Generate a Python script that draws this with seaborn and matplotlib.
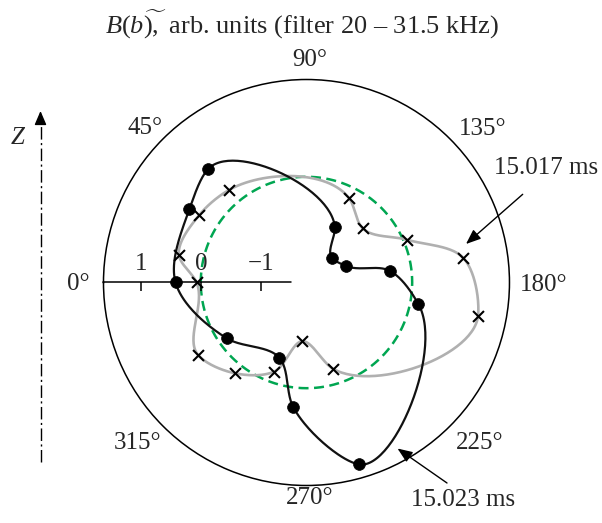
import numpy as np
import pandas as pd
import matplotlib
matplotlib.use("Agg")
import matplotlib.pyplot as plt
import seaborn as sns
from matplotlib.lines import Line2D

# ---- data -------------------------------------------------------------
# probe angles (deg) and field amplitude B(b), arb. units
angles_15017 = [0, 12, 32, 50, 117, 136, 157, 171, 191, 253, 274, 290, 308, 326]
signal_15017 = [0.07, 0.41, 0.35, 0.25, -0.19, -0.46, 0.06, 0.88, 1.15,
                -0.26, -0.78, -0.18, 0.16, 0.41]

angles_15023 = [0, 32, 49, 117, 136, 157, 172, 191, 254, 276, 290, 325]
signal_15023 = [0.42, 0.54, 0.74, -0.72, -1.17, -1.05, -0.36, 0.14, 1.39,
                0.33, -0.43, -0.14]

reference_level = 0.0
radial_ticks = [1, 0, -1]
radial_tick_labels = ["1", "0", "\u22121"]
angle_ticks = [0, 45, 90, 135, 180, 225, 270, 315]
angle_labels = ["0°", "45°", "90°", "135°", "180°", "225°", "270°", "315°"]
r_min, r_max = -1.76, 1.62

# ---- style ------------------------------------------------------------
sns.set_theme(style="ticks")
plt.rcParams["font.family"] = ["Liberation Serif", "DejaVu Serif"]
plt.rcParams["mathtext.fontset"] = "custom"
plt.rcParams["mathtext.rm"] = "Liberation Serif"
plt.rcParams["mathtext.it"] = "Liberation Serif:italic"
FS = 18


def closed_spline(theta_deg, values, origin, alpha=1.0, per_segment=60):
    """Closed Catmull-Rom curve through the measured points, built in the
    plane of the polar plot and returned as (theta_rad, r)."""
    th = np.radians(np.asarray(theta_deg, float))
    rho = np.asarray(values, float) - origin
    P = np.column_stack([rho * np.cos(th), rho * np.sin(th)])
    n = len(P)
    t = np.linspace(0, 1, per_segment, endpoint=False)[:, None]
    h00 = 2 * t**3 - 3 * t**2 + 1
    h10 = t**3 - 2 * t**2 + t
    h01 = -2 * t**3 + 3 * t**2
    h11 = t**3 - t**2
    pieces = []
    for i in range(n):
        p0, p1, p2, p3 = P[(i - 1) % n], P[i], P[(i + 1) % n], P[(i + 2) % n]
        d01 = np.linalg.norm(p1 - p0) ** alpha
        d12 = np.linalg.norm(p2 - p1) ** alpha
        d23 = np.linalg.norm(p3 - p2) ** alpha
        m1 = ((p1 - p0) / d01 - (p2 - p0) / (d01 + d12) + (p2 - p1) / d12) * d12
        m2 = ((p2 - p1) / d12 - (p3 - p1) / (d12 + d23) + (p3 - p2) / d23) * d12
        pieces.append(h00 * p1 + h10 * m1 + h01 * p2 + h11 * m2)
    pieces.append(P[:1])
    xy = np.vstack(pieces)
    theta = np.unwrap(np.arctan2(xy[:, 1], xy[:, 0]))
    r = np.hypot(xy[:, 0], xy[:, 1]) + origin
    return theta, r


fig = plt.figure(figsize=(6.02, 5.23), dpi=100)
ax = fig.add_axes([0.1719, 0.0717, 0.6744, 0.7763], projection="polar")
ax.set_theta_zero_location("W")
ax.set_theta_direction(-1)

# reference circle
circ = pd.DataFrame({"theta": np.linspace(0, 2 * np.pi, 721),
                     "r": np.full(721, reference_level)})
sns.lineplot(data=circ, x="theta", y="r", sort=False, estimator=None,
             color="#00a651", lw=1.8, ax=ax)
ax.lines[-1].set_dashes((4, 2.2))

# 15.017 ms
t1, r1 = closed_spline(angles_15017, signal_15017, r_min)
sns.lineplot(data=pd.DataFrame({"theta": t1, "r": r1}),
             x="theta", y="r", sort=False, estimator=None,
             color="#b0b0b0", lw=1.9, ax=ax)

# 15.023 ms
t2, r2 = closed_spline(angles_15023, signal_15023, r_min)
sns.lineplot(data=pd.DataFrame({"theta": t2, "r": r2}),
             x="theta", y="r", sort=False, estimator=None,
             color="#111111", lw=1.6, ax=ax)

sns.scatterplot(x=np.radians(angles_15017), y=signal_15017, marker="x",
                color="black", s=62, linewidth=1.5, ax=ax, zorder=5)
sns.scatterplot(x=np.radians(angles_15023), y=signal_15023, marker="o",
                color="black", edgecolor="black", s=72, linewidth=0.5,
                ax=ax, zorder=6)

ax.set_xlabel("")
ax.set_ylabel("")
ax.set_ylim(r_min, r_max)
ax.grid(False)
ax.set_yticks([])
ax.set_xticks(np.radians(angle_ticks))
ax.set_xticklabels([])
ax.tick_params(axis="x", direction="in", length=6.5, width=1.0, color="black")
ax.spines["polar"].set_color("black")
ax.spines["polar"].set_linewidth(1.1)

# radial scale along the 0° direction
ax.plot([0, 0], [-1.5, r_max], color="black", lw=1.1, clip_on=False)
ax.plot(np.zeros(len(radial_ticks)), radial_ticks, ls="none", marker=3,
        ms=6.5, mew=1.1, color="black")
for rv, lab in zip(radial_ticks, radial_tick_labels):
    ax.annotate(lab, xy=(0, rv), xytext=(0, 13.5), textcoords="offset points",
                ha="center", va="center", fontsize=FS)

# angle labels outside the rim (pixel offsets, screen y downward)
label_offsets = {0: (-25, 1.5), 45: (-18, -11), 90: (3.5, -20),
                 135: (33, -10), 180: (34.5, 2.5), 225: (30, 17),
                 270: (3.5, 12.5), 315: (-25, 17)}
for a, lab in zip(angle_ticks, angle_labels):
    ox, oy = label_offsets[a]
    ax.annotate(lab, xy=(np.radians(a), r_max), xytext=(ox * 0.72, -oy * 0.72),
                textcoords="offset points", ha="center", va="center",
                fontsize=FS, annotation_clip=False)

# title (wide tilde accent over the closing bracket and comma)
W, H = 602, 523
fig.text(302 / W, 1 - 24 / H,
         r"$B(b\widetilde{),}$ arb. units (filter 20 – 31.5 kHz)",
         ha="center", va="center", fontsize=19)

# Z axis
fig.add_artist(Line2D([40.5 / W, 40.5 / W], [1 - 462 / H, 1 - 122 / H],
                      transform=fig.transFigure, color="black", lw=1.0,
                      dashes=(9, 2.5, 1.5, 2.5)))
ax.annotate("", xy=(40.5, H - 111), xytext=(40.5, H - 124),
            xycoords="figure pixels", textcoords="figure pixels",
            arrowprops=dict(arrowstyle="-|>,head_length=0.7,head_width=0.3",
                            mutation_scale=12, color="black", lw=1.0,
                            shrinkA=0, shrinkB=0))
fig.text(17.5 / W, 1 - 138 / H, "Z", ha="center", va="center",
         fontsize=FS, style="italic")

# time labels with arrows
fig.text(598 / W, 1 - 168 / H, "15.017 ms", ha="right", va="center", fontsize=FS)
ax.annotate("", xy=(466, H - 244), xytext=(522.7, H - 194.3),
            xycoords="figure pixels", textcoords="figure pixels",
            arrowprops=dict(arrowstyle="-|>,head_length=0.75,head_width=0.3",
                            mutation_scale=12, color="black", lw=1.0,
                            shrinkA=0, shrinkB=0))
fig.text(463 / W, 1 - 500 / H, "15.023 ms", ha="center", va="center", fontsize=FS)
ax.annotate("", xy=(397.5, H - 448.5), xytext=(447, H - 483),
            xycoords="figure pixels", textcoords="figure pixels",
            arrowprops=dict(arrowstyle="-|>,head_length=0.75,head_width=0.3",
                            mutation_scale=12, color="black", lw=1.0,
                            shrinkA=0, shrinkB=0))

fig.savefig("out.png", dpi=100, facecolor="white")
